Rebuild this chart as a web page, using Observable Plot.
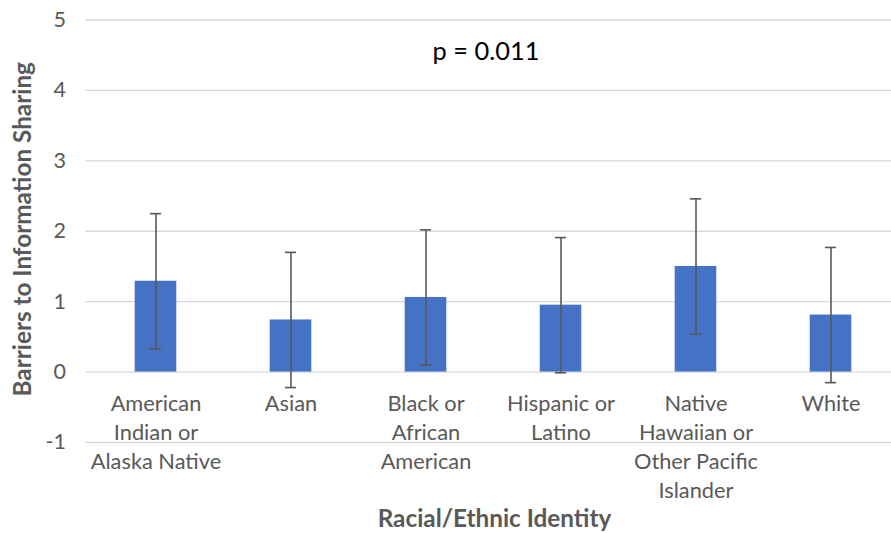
<!DOCTYPE html>
<html>
<head>
<meta charset="utf-8">
<script src="https://cdn.jsdelivr.net/npm/d3@7"></script>
<script src="https://cdn.jsdelivr.net/npm/@observablehq/plot@0.6"></script>
<style>
  html, body { margin: 0; padding: 0; background: #fff; }
  #chart svg { display: block; }
</style>
</head>
<body>
<div id="chart"></div>
<script>
const categories = [
  "American Indian or Alaska Native",
  "Asian",
  "Black or African American",
  "Hispanic or Latino",
  "Native Hawaiian or Other Pacific Islander",
  "White"
];
const tickLabels = [
  "American\nIndian or\nAlaska Native",
  "Asian",
  "Black or\nAfrican\nAmerican",
  "Hispanic or\nLatino",
  "Native\nHawaiian or\nOther Pacific\nIslander",
  "White"
];
const means = [1.29, 0.74, 1.06, 0.95, 1.50, 0.81];
const errors = [0.96, 0.96, 0.96, 0.96, 0.96, 0.96];
const yTicks = [-1, 0, 1, 2, 3, 4, 5];
const yTitle = "Barriers to Information Sharing";
const xTitle = "Racial/Ethnic Identity";
const annotation = "p = 0.011";

const data = categories.map((c, i) => ({
  cat: c, label: tickLabels[i], mean: means[i], err: errors[i]
}));

const FONT = "Lato, 'Open Sans', sans-serif";
const GREY = "#595959";

const chart = Plot.plot({
  width: 891,
  height: 533,
  marginLeft: 85.4,
  marginRight: 0,
  marginTop: 19.5,
  marginBottom: 91,
  style: { fontFamily: FONT, background: "#fff", overflow: "hidden" },
  x: { type: "band", domain: categories, range: [85.4, 900.2], padding: 0, axis: null },
  y: { domain: [-1, 5], axis: null },
  marks: [
    Plot.ruleY(yTicks, { stroke: "#d9d9d9", strokeWidth: 1.3 }),
    Plot.barY(data, { x: "cat", y: "mean", fill: "#4472C4", insetLeft: 46.7, insetRight: 46.7 }),
    Plot.ruleX(data, { x: "cat", y1: d => d.mean - d.err, y2: d => d.mean + d.err, stroke: GREY, strokeWidth: 1.6 }),
    Plot.tickY(data, { x: "cat", y: d => d.mean + d.err, stroke: GREY, strokeWidth: 1.6, insetLeft: 61.9, insetRight: 61.9 }),
    Plot.tickY(data, { x: "cat", y: d => d.mean - d.err, stroke: GREY, strokeWidth: 1.6, insetLeft: 61.9, insetRight: 61.9 }),
    Plot.axisY({ ticks: yTicks, tickSize: 0, tickPadding: 20, tickFormat: d => String(d), fontSize: 21.5, fill: GREY, label: null }),
    Plot.text(data, { x: "cat", y: () => 0, text: "label", lineAnchor: "top", lineHeight: 28.9 / 21.8, dy: 18.2, fontSize: 21.8, fill: GREY }),
    Plot.text([yTitle], { frameAnchor: "left", textAnchor: "middle", dx: -63, dy: -2, rotate: -90, fontSize: 24.3, fontWeight: "bold", fill: GREY }),
    Plot.text([annotation], { frameAnchor: "top", lineAnchor: "bottom", dx: -2.7, dy: 39.8, fontSize: 25.4, fill: "#000" }),
    Plot.text([xTitle], { frameAnchor: "bottom", lineAnchor: "bottom", dx: 5.8, dy: 84.7, fontSize: 24.3, fontWeight: "bold", fill: GREY })
  ]
});
document.getElementById("chart").appendChild(chart);
</script>
</body>
</html>
